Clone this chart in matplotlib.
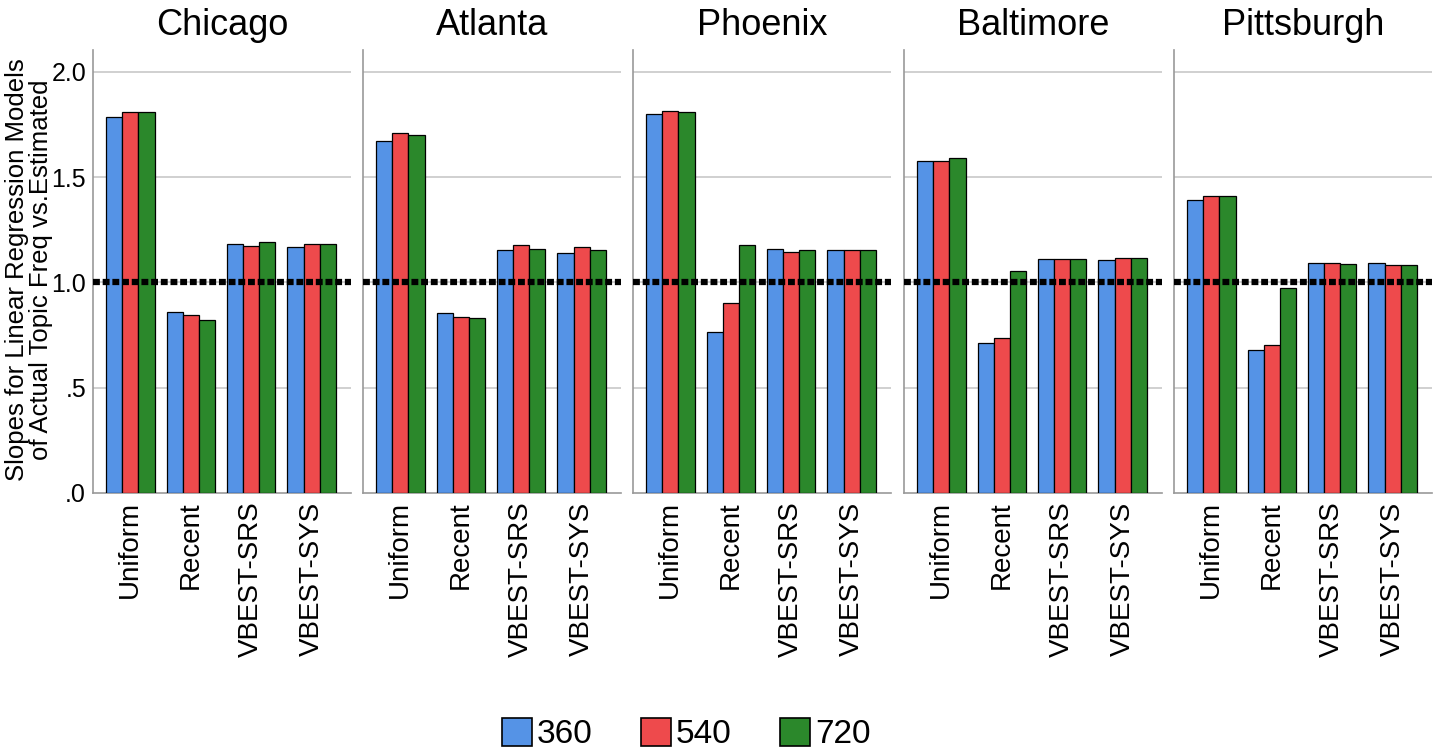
import matplotlib
matplotlib.use("Agg")
import matplotlib.pyplot as plt
import matplotlib.transforms as mtransforms
from matplotlib.patches import Patch
import numpy as np

plt.rcParams['font.family'] = ['Liberation Sans', 'DejaVu Sans']

cities = ["Chicago", "Atlanta", "Phoenix", "Baltimore", "Pittsburgh"]
methods = ["Uniform", "Recent", "VBEST-SRS", "VBEST-SYS"]
windows = ["360", "540", "720"]

# slopes per city, in the order of methods
slopes_360 = [[1.788, 0.861, 1.184, 1.169],
              [1.674, 0.855, 1.152, 1.142],
              [1.799, 0.765, 1.158, 1.152],
              [1.576, 0.711, 1.112, 1.105],
              [1.392, 0.681, 1.091, 1.091]]
slopes_540 = [[1.808, 0.844, 1.175, 1.184],
              [1.709, 0.836, 1.176, 1.169],
              [1.815, 0.903, 1.146, 1.152],
              [1.579, 0.736, 1.112, 1.115],
              [1.411, 0.703, 1.094, 1.081]]
slopes_720 = [[1.808, 0.822, 1.194, 1.184],
              [1.701, 0.829, 1.160, 1.155],
              [1.810, 1.178, 1.152, 1.152],
              [1.590, 1.053, 1.109, 1.115],
              [1.411, 0.972, 1.086, 1.083]]

colors = ['#5593e6', '#ee4a4c', '#2b882b']
series = [slopes_360, slopes_540, slopes_720]

W, H = 1439, 755
fig = plt.figure(figsize=(W / 100, H / 100), dpi=100)

lefts = [93, 363, 633, 904, 1174]
pw = 258
top_px, bot_px = 50, 493
bw = 0.267
x = np.arange(len(methods))
shift = mtransforms.ScaledTranslation(6 / 100, 0, fig.dpi_scale_trans)

for c, city in enumerate(cities):
    ax = fig.add_axes([lefts[c] / W, 1 - bot_px / H, pw / W, (bot_px - top_px) / H])
    for k in range(3):
        ax.bar(x + (k - 1) * bw, series[k][c], bw, color=colors[k],
               edgecolor='black', linewidth=0.9, zorder=3)
    ax.set_xlim(-0.617, 3.65)
    ax.set_ylim(0, 2.104)
    ax.set_yticks([0, 0.5, 1.0, 1.5, 2.0])
    for yv in [0.5, 1.0, 1.5, 2.0]:
        ax.axhline(yv, color='#c8c8c8', lw=1.2, zorder=1)
    ax.axhline(1.0, color='black', lw=4.5, linestyle=(0, (1.1, 0.45)), zorder=5)
    ax.set_xticks(x)
    ax.set_xticklabels(methods, rotation=90, fontsize=20)
    for lab in ax.get_xticklabels():
        lab.set_transform(lab.get_transform() + shift)
    ax.tick_params(axis='both', length=0)
    ax.tick_params(axis='x', pad=6)
    ax.tick_params(axis='y', pad=5)
    if c == 0:
        ax.set_yticklabels(['.0', '.5', '1.0', '1.5', '2.0'], fontsize=18)
    else:
        ax.set_yticklabels([])
    for s in ['top', 'right']:
        ax.spines[s].set_visible(False)
    for s in ['left', 'bottom']:
        ax.spines[s].set_color('#999999')
        ax.spines[s].set_linewidth(1.2)
    fig.text((lefts[c] + pw / 2) / W, 1 - 35 / H, city, ha='center',
             va='baseline', fontsize=26)

fig.text(29 / W, 1 - 270 / H,
         "Slopes for Linear Regression Models\nof Actual Topic Freq vs.Estimated",
         rotation=90, ha='center', va='center', fontsize=18.5, linespacing=0.95)

handles = [Patch(facecolor=colors[k], edgecolor='black', linewidth=1.2) for k in range(3)]
fig.legend(handles, windows, loc='center', bbox_to_anchor=(686 / W, 1 - 734 / H),
           ncol=3, frameon=False, fontsize=24, handlelength=0.9, handleheight=0.9,
           handletextpad=0.15, columnspacing=1.45, borderpad=0)

plt.savefig('out.png', dpi=100)
